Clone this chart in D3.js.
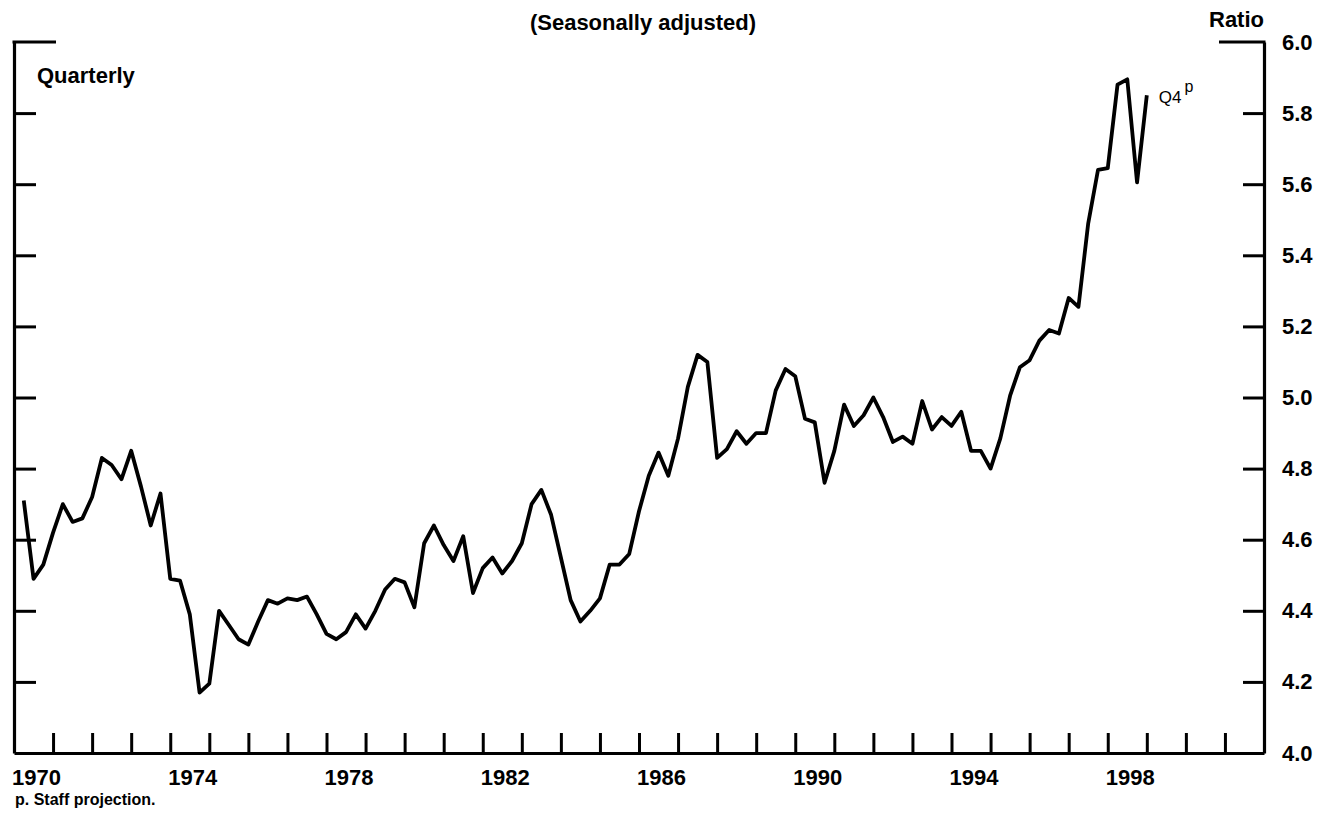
<!DOCTYPE html>
<html>
<head>
<meta charset="utf-8">
<script src="https://cdn.jsdelivr.net/npm/d3@7"></script>
<style>
  html, body { margin: 0; padding: 0; background: #fff; }
  svg { display: block; }
  text { font-family: "Liberation Sans", Arial, Helvetica, sans-serif; fill: #000; }
</style>
</head>
<body>
<svg id="chart" width="1334" height="813"></svg>
<script>
// ---- data (quarterly ratio, seasonally adjusted), 1970Q1 .. 1998Q4 ----
const startYear = 1970;
const ratio1970s = [
  4.71, 4.49, 4.53, 4.62,   // 1970
  4.70, 4.65, 4.66, 4.72,   // 1971
  4.83, 4.81, 4.77, 4.85,   // 1972
  4.75, 4.64, 4.73, 4.49,   // 1973
  4.485, 4.39, 4.17, 4.195, // 1974
  4.40, 4.36, 4.32, 4.305,  // 1975
  4.37, 4.43, 4.42, 4.435,  // 1976
  4.43, 4.44, 4.39, 4.335,  // 1977
  4.32, 4.34, 4.39, 4.35,   // 1978
  4.40, 4.46, 4.49, 4.48    // 1979
];
const ratio1980s = [
  4.41, 4.59, 4.64, 4.585,  // 1980
  4.54, 4.61, 4.45, 4.52,   // 1981
  4.55, 4.505, 4.54, 4.59,  // 1982
  4.70, 4.74, 4.67, 4.55,   // 1983
  4.43, 4.37, 4.40, 4.435,  // 1984
  4.53, 4.53, 4.56, 4.68,   // 1985
  4.78, 4.845, 4.78, 4.885, // 1986
  5.03, 5.12, 5.10, 4.83,   // 1987
  4.855, 4.905, 4.87, 4.90, // 1988
  4.90, 5.02, 5.08, 5.06    // 1989
];
const ratio1990s = [
  4.94, 4.93, 4.76, 4.85,   // 1990
  4.98, 4.92, 4.95, 5.00,   // 1991
  4.945, 4.875, 4.89, 4.87, // 1992
  4.99, 4.91, 4.945, 4.92,  // 1993
  4.96, 4.85, 4.85, 4.80,   // 1994
  4.885, 5.005, 5.085, 5.105, // 1995
  5.16, 5.19, 5.18, 5.28,   // 1996
  5.255, 5.49, 5.64, 5.645, // 1997
  5.88, 5.895, 5.605, 5.85  // 1998 (Q4 projected)
];
const yTickValues = [4.0, 4.2, 4.4, 4.6, 4.8, 5.0, 5.2, 5.4, 5.6, 5.8, 6.0];
const xLabelYears = [1970, 1974, 1978, 1982, 1986, 1990, 1994, 1998];
const xTickYears = [1971,1972,1973,1974,1975,1976,1977,1978,1979,1980,1981,1982,1983,1984,1985,
                    1986,1987,1988,1989,1990,1991,1992,1993,1994,1995,1996,1997,1998,1999,2000,2001];
const xDomain = [1970, 2002];
const yDomain = [4.0, 6.0];

// ---- build series ----
const values = ratio1970s.concat(ratio1980s, ratio1990s);
const series = values.map((v, i) => ({ t: startYear + (i + 1) / 4, v: v }));

const svg = d3.select("#chart");
const x = d3.scaleLinear().domain(xDomain).range([14, 1264]);
const y = d3.scaleLinear().domain(yDomain).range([753, 42]);

const axisStroke = 3.2;

// left axis (inward ticks, no labels)
const leftAxis = svg.append("g")
  .attr("transform", `translate(${x(xDomain[0])},0)`)
  .call(d3.axisLeft(y).tickValues(yTickValues.slice(1, -1)).tickSize(-22).tickSizeOuter(0).tickFormat(""));
// right axis (inward ticks, labels outside)
const rightAxis = svg.append("g")
  .attr("transform", `translate(${x(xDomain[1])},0)`)
  .call(d3.axisRight(y).tickValues(yTickValues).tickSize(-21).tickSizeOuter(0).tickPadding(18)
        .tickFormat(d3.format(".1f")));
// bottom axis (upward ticks)
const bottomAxis = svg.append("g")
  .attr("transform", `translate(0,${y(yDomain[0])})`)
  .call(d3.axisBottom(x).tickValues(xTickYears).tickSize(-20).tickSizeOuter(0).tickFormat(""));

[leftAxis, rightAxis, bottomAxis].forEach(g => {
  g.select(".domain").attr("stroke", "#000").attr("stroke-width", axisStroke);
  g.selectAll(".tick line").attr("stroke", "#000").attr("stroke-width", 3);
});
rightAxis.selectAll(".tick text")
  .attr("font-size", 22).attr("font-weight", "bold").attr("fill", "#000")
  .attr("font-family", "'Liberation Sans', Arial, sans-serif");
rightAxis.selectAll(".tick").filter(d => d === 6.0 || d === 4.0).select("line").remove();

// long top ticks at 6.0
svg.append("line")
  .attr("x1", x(xDomain[0]) - 1.5).attr("x2", x(xDomain[0]) + 42)
  .attr("y1", y(6.0)).attr("y2", y(6.0))
  .attr("stroke", "#000").attr("stroke-width", 3);
svg.append("line")
  .attr("x1", x(xDomain[1]) - 45).attr("x2", x(xDomain[1]) + 1.5)
  .attr("y1", y(6.0)).attr("y2", y(6.0))
  .attr("stroke", "#000").attr("stroke-width", 3);

// year labels, centred in each year interval
svg.append("g").selectAll("text")
  .data(xLabelYears)
  .join("text")
  .attr("x", d => x(d + 0.5) + 3)
  .attr("y", 785)
  .attr("text-anchor", "middle")
  .attr("font-size", 22).attr("font-weight", "bold")
  .text(d => d);

// series line
svg.append("path")
  .datum(series)
  .attr("fill", "none")
  .attr("stroke", "#000")
  .attr("stroke-width", 3.8)
  .attr("stroke-linejoin", "round")
  .attr("d", d3.line().x(d => x(d.t)).y(d => y(d.v)));

// texts
svg.append("text").attr("x", 643).attr("y", 30).attr("text-anchor", "middle")
  .attr("font-size", 22).attr("font-weight", "bold").text("(Seasonally adjusted)");
svg.append("text").attr("x", 1209).attr("y", 27)
  .attr("font-size", 22).attr("font-weight", "bold").text("Ratio");
svg.append("text").attr("x", 37).attr("y", 83)
  .attr("font-size", 22).attr("font-weight", "bold").text("Quarterly");
const last = series[series.length - 1];
const q4 = svg.append("text").attr("x", x(last.t) + 12).attr("y", y(last.v) + 8)
  .attr("font-size", 17);
q4.append("tspan").text("Q4");
q4.append("tspan").attr("dy", -11).attr("dx", 3).attr("font-size", 16).text("p");
svg.append("text").attr("x", 15).attr("y", 805)
  .attr("font-size", 16).attr("font-weight", "bold").text("p. Staff projection.");
</script>
</body>
</html>
